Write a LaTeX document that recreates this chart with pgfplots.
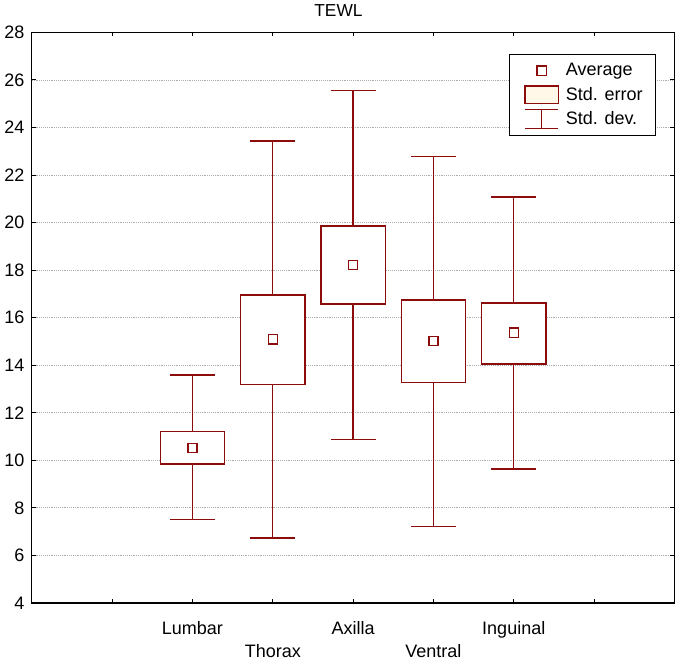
\documentclass[border=0pt]{standalone}
\usepackage{fontspec}
\setmainfont{Liberation Sans}
\usepackage{pgfplots}
\pgfplotsset{compat=1.18}
\usepgfplotslibrary{statistics}
\definecolor{dred}{RGB}{140,12,12}
\definecolor{cream}{RGB}{255,248,232}
\begin{document}
\begin{tikzpicture}
\begin{axis}[
  scale only axis,
  width=482pt, height=428pt,
  xmin=0, xmax=8, ymin=4, ymax=28,
  axis line style={line width=0.9pt},
  xtick={1,...,7},
  xticklabels={,\strut Lumbar,\strut\\\strut Thorax,\strut Axilla,\strut\\\strut Ventral,\strut Inguinal,},
  xticklabel style={align=center, yshift=-7.5pt, font=\fontsize{13.5}{17.5}\selectfont},
  ytick={4,6,...,28},
  yticklabel style={xshift=-2pt, font=\fontsize{13.5}{16}\selectfont},
  /pgf/number format/assume math mode=true,
  tick align=inside,
  tick pos=both,
  major tick length=3pt,
  tick style={black, line width=0.7pt},
  ymajorgrids,
  major grid style={densely dotted, gray!65, line width=0.6pt},
  title={TEWL},
  title style={font=\fontsize{13}{14}\selectfont, xshift=-11pt, yshift=2.5pt},
  boxplot/draw direction=y,
  boxplot/box extend=0.8,
  boxplot/whisker extend=0.56,
  boxplot/every box/.style={draw=dred, fill=white, line width=1.1pt},
  boxplot/every whisker/.style={draw=dred, fill=none, line width=1pt},
  boxplot/every median/.style={draw=none},
  legend style={at={(0.972,0.963)}, anchor=north east, draw=black, line width=0.8pt,
    fill=white, inner xsep=8pt, inner ysep=5pt, row sep=3pt, column sep=3pt,
    font=\fontsize{13.5}{16}\selectfont, cells={anchor=west}},
]
% Lumbar
\addplot[forget plot, boxplot prepared={draw position=2, lower whisker=7.50, lower quartile=9.85, median=10.51, upper quartile=11.21, upper whisker=13.59}] coordinates {};
% Thorax
\addplot[forget plot, boxplot prepared={draw position=3, lower whisker=6.73, lower quartile=13.20, median=15.09, upper quartile=16.95, upper whisker=23.43}] coordinates {};
% Axilla
\addplot[forget plot, boxplot prepared={draw position=4, lower whisker=10.89, lower quartile=16.58, median=18.21, upper quartile=19.86, upper whisker=25.56}] coordinates {};
% Ventral
\addplot[forget plot, boxplot prepared={draw position=5, lower whisker=7.22, lower quartile=13.27, median=15.02, upper quartile=16.74, upper whisker=22.79}] coordinates {};
% Inguinal
\addplot[forget plot, boxplot prepared={draw position=6, lower whisker=9.63, lower quartile=14.05, median=15.37, upper quartile=16.61, upper whisker=21.07}] coordinates {};
% averages
\addplot[forget plot, only marks, mark=square*, mark size=3.4pt, mark options={draw=dred, fill=white, line width=1pt}]
  coordinates {(2,10.51) (3,15.09) (4,18.21) (5,15.02) (6,15.37)};
% legend
\addlegendimage{legend image code/.code={
  \path[draw=none, fill=none] (-4pt,-7pt) rectangle (25pt,7pt);
  \draw[draw=dred, fill=white, line width=1pt] (9pt,-3.5pt) rectangle (16pt,3.5pt);}}
\addlegendentry{Average}
\addlegendimage{legend image code/.code={
  \path[draw=none, fill=none] (-4pt,-7pt) rectangle (25pt,7pt);
  \draw[draw=dred, fill=cream, line width=1.1pt] (0pt,-6.5pt) rectangle (25pt,6.5pt);}}
\addlegendentry{Std. error}
\addlegendimage{legend image code/.code={
  \path[draw=none, fill=none] (-4pt,-7pt) rectangle (25pt,7pt);
  \draw[draw=dred, fill=none, line width=1pt] (0pt,7pt)--(25pt,7pt) (12.5pt,7pt)--(12.5pt,-7pt) (0pt,-7pt)--(25pt,-7pt);}}
\addlegendentry{Std. dev.}
\end{axis}
\end{tikzpicture}
\end{document}
